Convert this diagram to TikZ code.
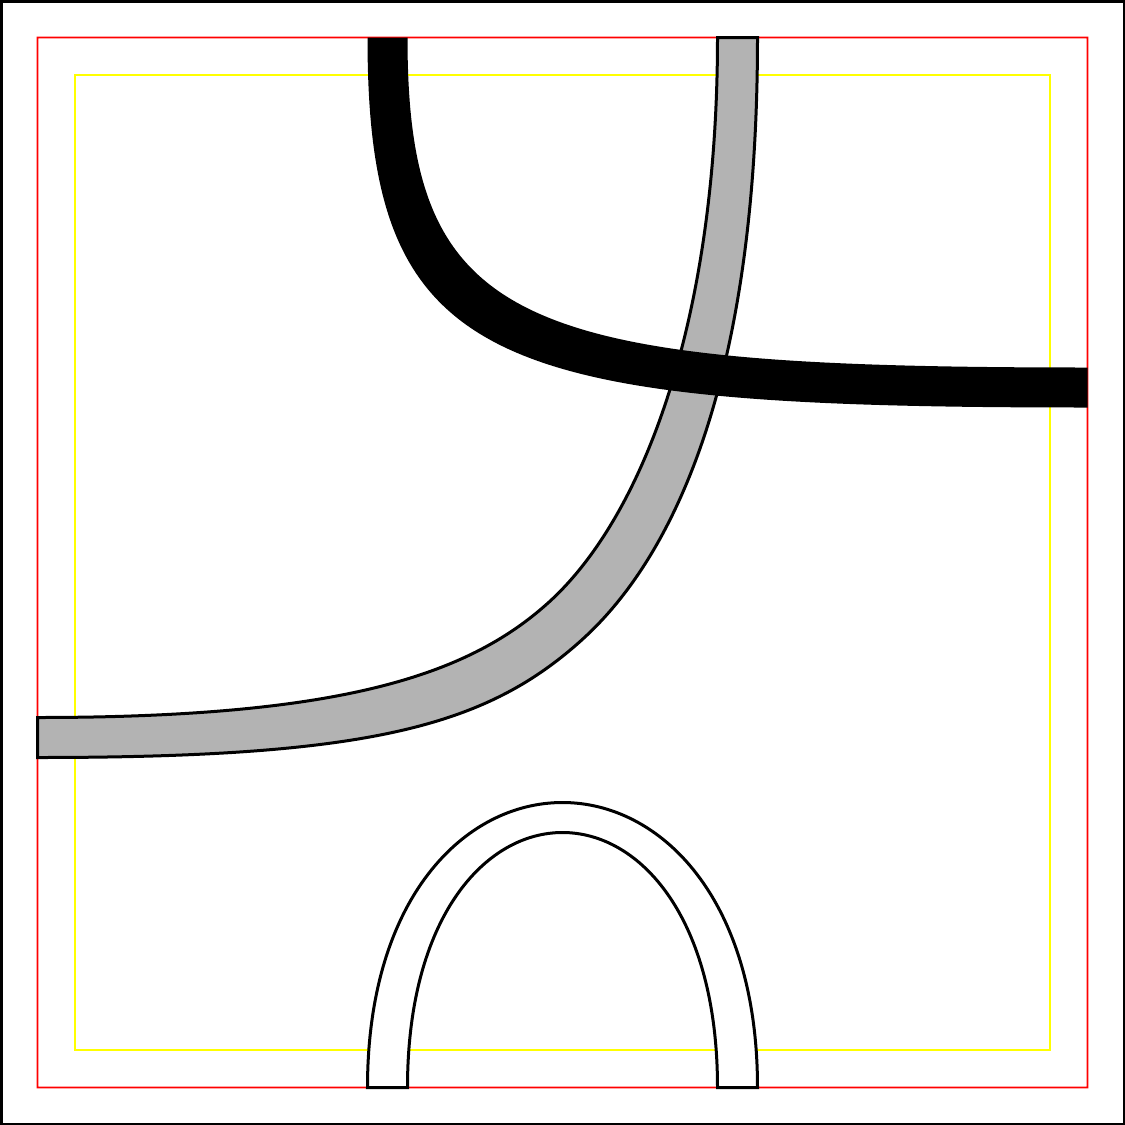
\documentclass[tikz,border=0pt]{standalone}
\definecolor{bandgray}{RGB}{179,179,179}
\definecolor{linered}{RGB}{255,0,0}
\definecolor{lineyellow}{RGB}{255,255,0}
\tikzset{
  outerframe/.style={draw=black, line width=2.5pt},
  redrect/.style={fill=linered, even odd rule},
  yellowrect/.style={draw=lineyellow, line width=1.4pt},
  grayband/.style={fill=bandgray, draw=black, line width=3pt, line join=miter},
  blackband/.style={fill=black, draw=none},
  archband/.style={fill=white, draw=black, line width=3pt, line join=miter}
}
\begin{document}
\begin{tikzpicture}[x=1pt, y=-1pt]
\useasboundingbox (0,0) rectangle (1125,1125);
\fill[white] (0,0) rectangle (1125,1125);
\draw[outerframe] (1.25,1.25) rectangle (1123.75,1123.75);
\fill[redrect] (36.7,36.7) rectangle (1088.3,1088.3) (38.3,38.3) rectangle (1086.7,1086.7);
\draw[yellowrect] (75,75) rectangle (1050,1050);
% gray band (inner edge, then outer edge reversed)
\draw[grayband] (717.5,37.5) .. controls (717.5,317.5) and (644.6,516) .. (548,603)
  .. controls (466.3,676.6) and (337.5,717.5) .. (37.5,717.5)
  -- (37.5,757.5) .. controls (367.5,757.5) and (484.9,727.2) .. (581.5,640.2)
  .. controls (670.7,559.9) and (757.5,387.5) .. (757.5,37.5) -- cycle;
% black band
\fill[blackband] (367.5,37.5) .. controls (367.5,367.5) and (487.5,407.5) .. (1087.5,407.5)
  -- (1087.5,367.5) .. controls (517.5,367.5) and (407.5,327.5) .. (407.5,37.5) -- cycle;
% arch
\draw[archband] (367.5,1087.5) .. controls (367.5,707.5) and (757.5,707.5) .. (757.5,1087.5)
  -- (717.5,1087.5) .. controls (717.5,747.5) and (407.5,747.5) .. (407.5,1087.5) -- cycle;
\end{tikzpicture}
\end{document}
